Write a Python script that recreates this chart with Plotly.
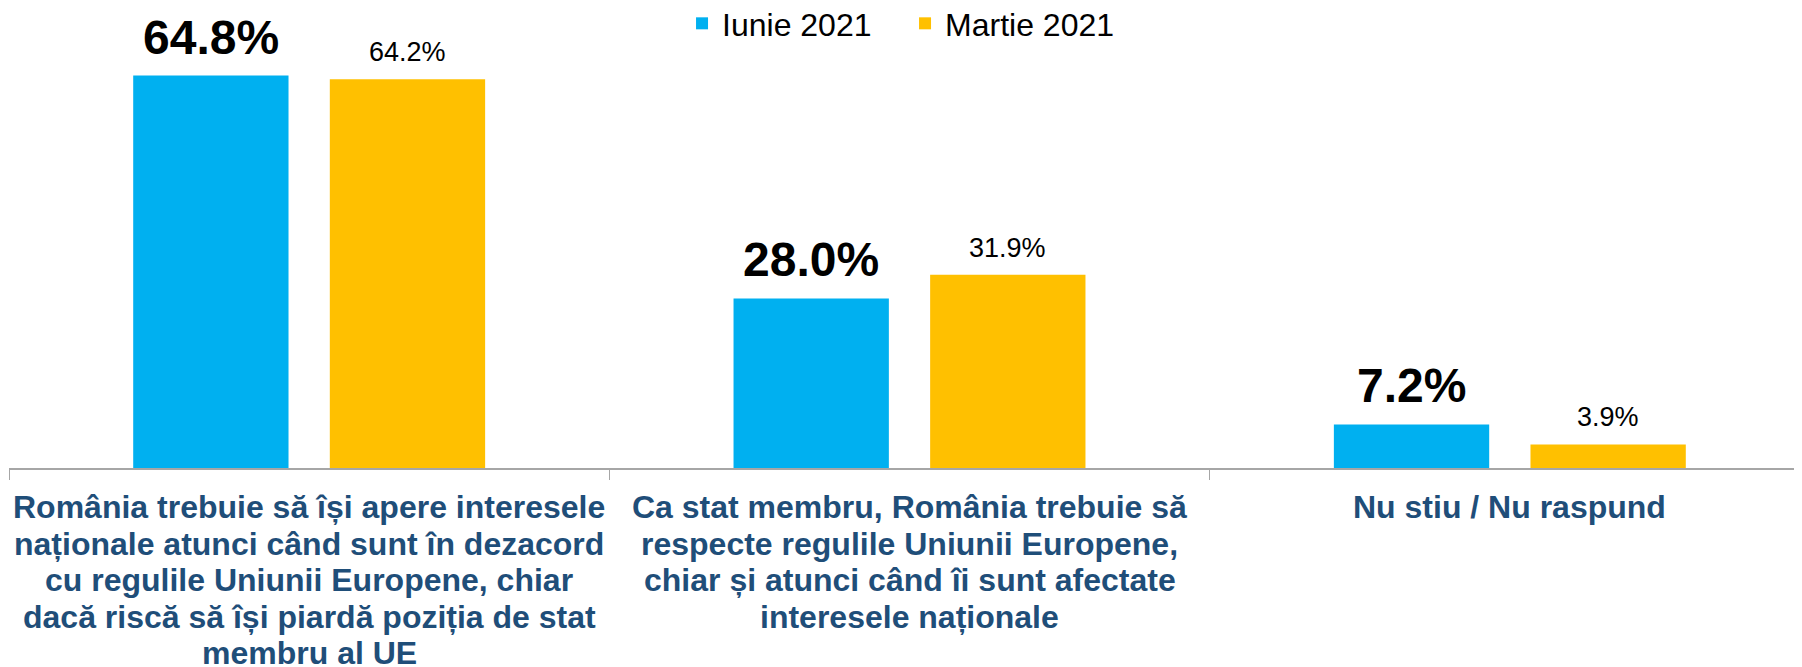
import plotly.graph_objects as go

# ---- data ----
category_lines = [
    ["România trebuie să își apere interesele",
     "naționale atunci când sunt în dezacord",
     "cu regulile Uniunii Europene, chiar",
     "dacă riscă să își piardă poziția de stat",
     "membru al UE"],
    ["Ca stat membru, România trebuie să",
     "respecte regulile Uniunii Europene,",
     "chiar și atunci când îi sunt afectate",
     "interesele naționale"],
    ["Nu stiu / Nu raspund"],
]
categories = [" ".join(lines) for lines in category_lines]
series_names = ["Iunie 2021", "Martie 2021"]
iunie_2021 = [64.8, 28.0, 7.2]
martie_2021 = [64.2, 31.9, 3.9]

FONT = "Liberation Sans, Arial, sans-serif"
BLUE = "#00B0F0"
GOLD = "#FFC000"
LABEL_COLOR = "#1F4E79"
AXIS_GRAY = "#A6A6A6"
BARGAP = 0.345
BARGROUPGAP = 0.21

fig = go.Figure()
fig.add_trace(go.Bar(
    name=series_names[0], x=categories, y=iunie_2021,
    marker=dict(color=BLUE, line=dict(width=0)), hoverinfo="skip",
))
fig.add_trace(go.Bar(
    name=series_names[1], x=categories, y=martie_2021,
    marker=dict(color=GOLD, line=dict(width=0)), hoverinfo="skip",
))

annotations = []
# value labels above bars (grouped-bar centre offset derived from bargap)
half = (1 - BARGAP) / 4
for series, sign, size, bold in ((iunie_2021, -1, 48, True), (martie_2021, 1, 27, False)):
    for i, v in enumerate(series):
        txt = f"{v:.1f}%"
        annotations.append(dict(
            x=i + sign * half, y=v, xref="x", yref="y",
            text=f"<b>{txt}</b>" if bold else txt, showarrow=False,
            xanchor="center", yanchor="bottom", yshift=10,
            font=dict(family=FONT, size=size, color="black"),
        ))

# category labels, one annotation per line for tight line spacing
for cat, lines in zip(categories, category_lines):
    for j, line in enumerate(lines):
        annotations.append(dict(
            x=cat, y=0, xref="x", yref="y",
            text=f"<b>{line}</b>", showarrow=False,
            xanchor="center", yanchor="middle",
            yshift=-(39 + j * 36.5),
            font=dict(family=FONT, size=32, color=LABEL_COLOR),
        ))

fig.update_layout(
    width=1802, height=667,
    margin=dict(l=1, r=0, t=36, b=207, autoexpand=False),
    paper_bgcolor="white", plot_bgcolor="white",
    barmode="group", bargap=BARGAP, bargroupgap=BARGROUPGAP,
    showlegend=True,
    legend=dict(
        orientation="h", x=0.3737, xanchor="left",
        y=1.0483, yanchor="middle",
        entrywidth=178, entrywidthmode="pixels",
        font=dict(family=FONT, size=32, color="black"),
        bgcolor="rgba(0,0,0,0)",
    ),
    annotations=annotations,
    xaxis=dict(
        range=[-0.5, 2.5], showline=True, linecolor=AXIS_GRAY, linewidth=1.5,
        ticks="outside", tickson="boundaries", ticklen=10, tickcolor=AXIS_GRAY,
        tickwidth=1, showticklabels=False, showgrid=False, zeroline=False,
    ),
    yaxis=dict(
        range=[0, 70], visible=False, showgrid=False, zeroline=False,
    ),
    font=dict(family=FONT),
)

fig.write_html("out.html")
